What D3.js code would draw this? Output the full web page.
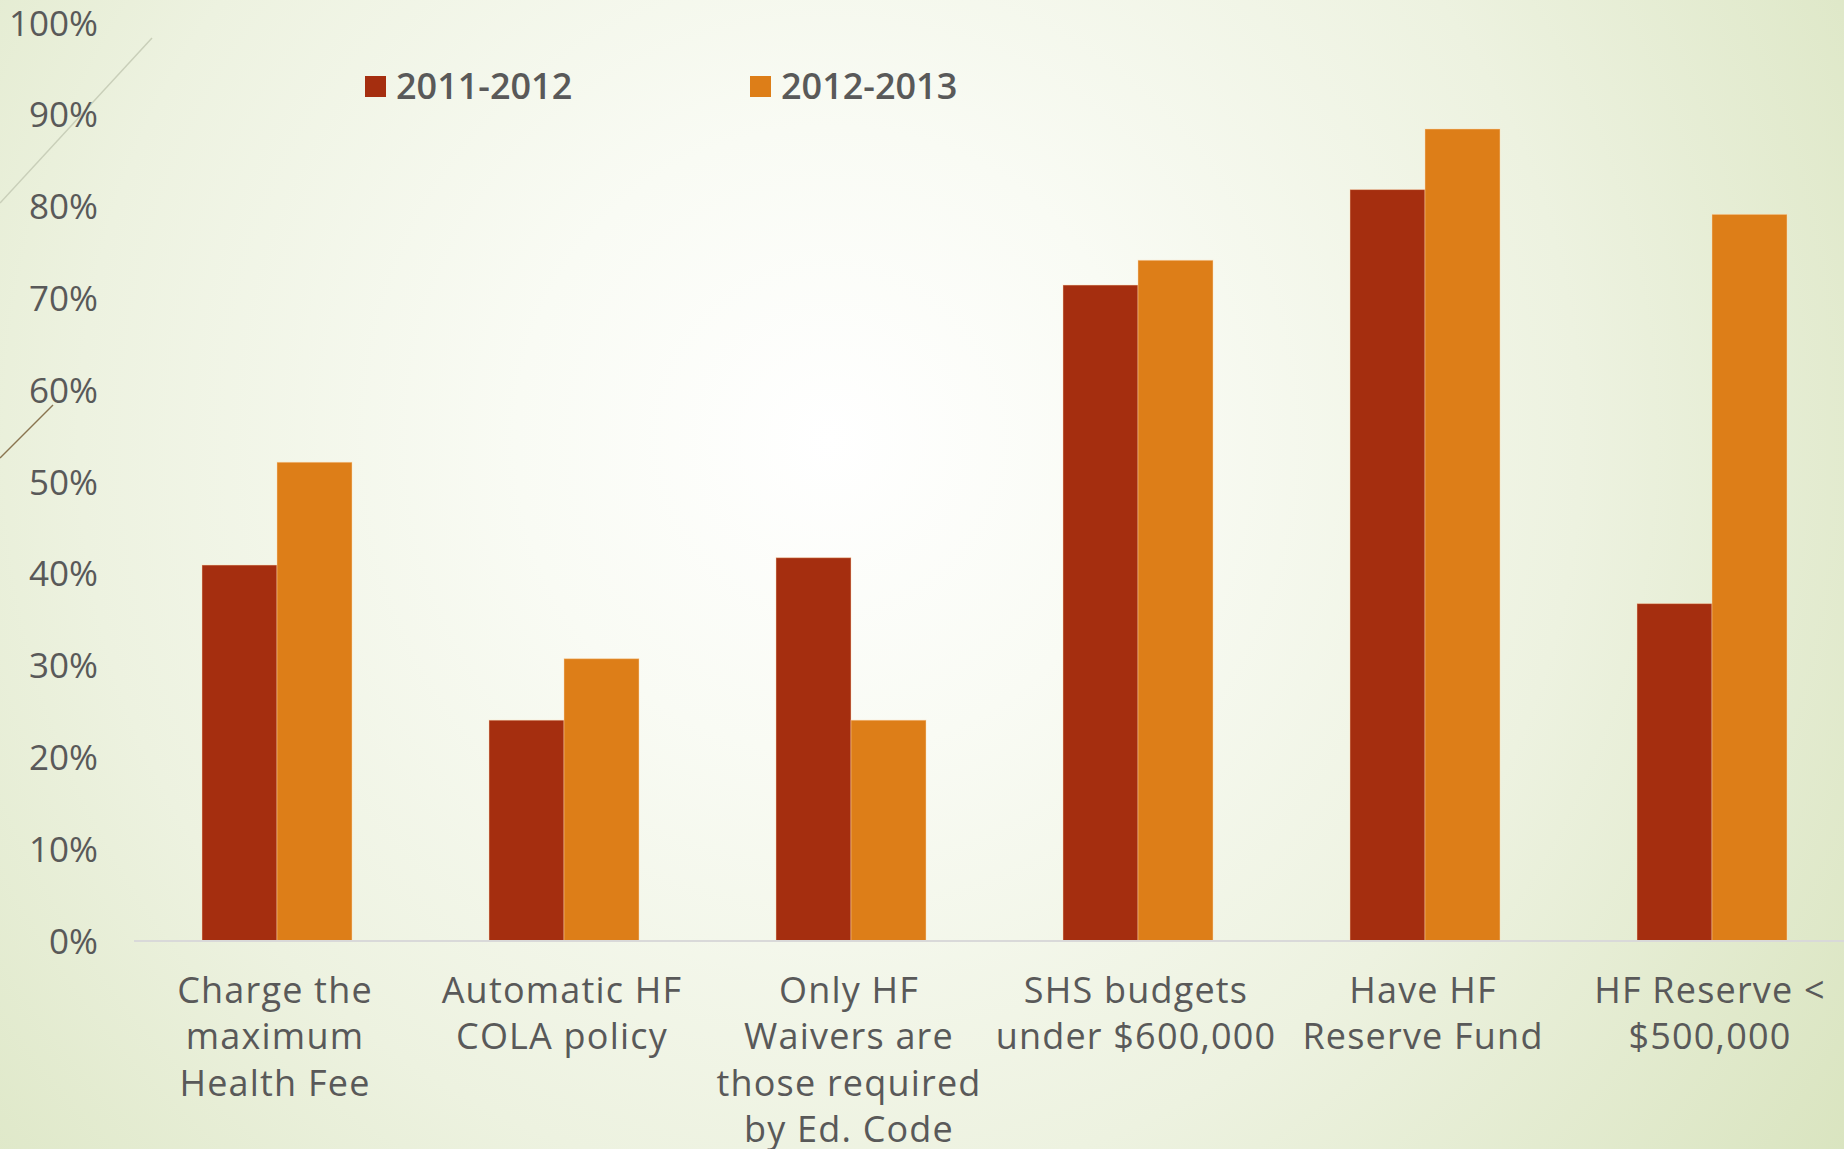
<!DOCTYPE html>
<html>
<head>
<meta charset="utf-8">
<script src="https://cdn.jsdelivr.net/npm/d3@7"></script>
<style>
  html, body { margin: 0; padding: 0; overflow: hidden; background: #f4f7ec; }
  svg { display: block; }
</style>
</head>
<body>
<svg id="chart" width="1844" height="1149"></svg>
<script>
// ---- data ----
const categories = [
  ["Charge the", "maximum", "Health Fee"],
  ["Automatic HF", "COLA policy"],
  ["Only HF", "Waivers are", "those required", "by Ed. Code"],
  ["SHS budgets", "under $600,000"],
  ["Have HF", "Reserve Fund"],
  ["HF Reserve <", "$500,000"]
];
const seriesNames = ["2011-2012", "2012-2013"];
const values2011 = [0.409, 0.240, 0.417, 0.714, 0.818, 0.367];
const values2012 = [0.521, 0.307, 0.240, 0.741, 0.884, 0.791];
const yTicks = [0, 0.1, 0.2, 0.3, 0.4, 0.5, 0.6, 0.7, 0.8, 0.9, 1.0];
const colors = ["#a52e0f", "#dd7e18"];

// ---- setup ----
const W = 1844, H = 1149;
const svg = d3.select("#chart");
const defs = svg.append("defs");
const grad = defs.append("radialGradient")
  .attr("id", "bg").attr("gradientUnits", "userSpaceOnUse")
  .attr("cx", 830).attr("cy", 440).attr("r", 1250);
grad.append("stop").attr("offset", "0").attr("stop-color", "#ffffff");
grad.append("stop").attr("offset", "0.25").attr("stop-color", "#f9fbf4");
grad.append("stop").attr("offset", "0.6").attr("stop-color", "#edf2e0");
grad.append("stop").attr("offset", "1").attr("stop-color", "#d9e4bf");
svg.append("rect").attr("width", W).attr("height", H).attr("fill", "url(#bg)");

// decorative lines
svg.append("line").attr("x1", 152).attr("y1", 38).attr("x2", 0).attr("y2", 203)
  .attr("stroke", "#c9cfb9").attr("stroke-width", 1.5);
svg.append("line").attr("x1", 53).attr("y1", 405).attr("x2", 0).attr("y2", 458)
  .attr("stroke", "#8a7550").attr("stroke-width", 1.5);

// scales
const x0 = d3.scaleBand()
  .domain(d3.range(categories.length))
  .range([133.5, 133.5 + 287 * categories.length])
  .paddingInner(0.4774).paddingOuter(0.2387);
const x1 = d3.scaleBand().domain(d3.range(seriesNames.length)).range([0, x0.bandwidth()]);
const y = d3.scaleLinear().domain([0, 1]).range([940.5, 22.5]);

// y axis labels
const yAxis = d3.axisLeft(y).tickValues(yTicks).tickFormat(d3.format(".0%")).tickSize(0).tickPadding(0);
const gy = svg.append("g").attr("transform", "translate(98,0)").call(yAxis);
gy.select(".domain").remove();
gy.selectAll("text")
  .attr("font-family", "'Open Sans', sans-serif")
  .attr("font-size", 35).attr("fill", "#595959").attr("dy", "0.36em");

// bars
const allValues = [values2011, values2012];
const groups = svg.append("g").selectAll("g")
  .data(categories.map((c, i) => i))
  .join("g")
  .attr("transform", i => `translate(${x0(i)},0)`);
groups.selectAll("rect")
  .data(i => allValues.map((vals, s) => ({ s, v: vals[i] })))
  .join("rect")
  .attr("x", d => x1(d.s))
  .attr("y", d => y(d.v))
  .attr("width", x1.bandwidth())
  .attr("height", d => y(0) - y(d.v))
  .attr("fill", d => colors[d.s])
  .attr("stroke", "rgba(255,220,180,0.45)")
  .attr("stroke-width", 1);

// baseline
svg.append("line")
  .attr("x1", 134).attr("x2", W).attr("y1", y(0) + 0.5).attr("y2", y(0) + 0.5)
  .attr("stroke", "#d9d9d9").attr("stroke-width", 2);

// category labels
const labels = svg.append("g").selectAll("text")
  .data(categories.map((c, i) => ({ c, i })))
  .join("text")
  .attr("text-anchor", "middle")
  .attr("font-family", "'Open Sans', sans-serif")
  .attr("font-size", 36)
  .attr("font-weight", 500)
  .attr("letter-spacing", 1.2)
  .attr("fill", "#595959");
labels.selectAll("tspan")
  .data(d => d.c.map((line, k) => ({ line, k, i: d.i })))
  .join("tspan")
  .attr("x", d => x0(d.i) + x0.bandwidth() / 2 - 2)
  .attr("y", d => 1003 + d.k * 46.3)
  .text(d => d.line);

// legend
const legendX = [365, 750];
const lg = svg.append("g").selectAll("g").data(seriesNames).join("g")
  .attr("transform", (d, i) => `translate(${legendX[i]},76)`);
lg.append("rect").attr("width", 21).attr("height", 21).attr("fill", (d, i) => colors[i]);
lg.append("text").attr("x", 31).attr("y", 23)
  .attr("font-family", "'Open Sans', sans-serif")
  .attr("font-weight", 600)
  .attr("font-size", 36).attr("fill", "#595959")
  .text(d => d);
</script>
</body>
</html>
